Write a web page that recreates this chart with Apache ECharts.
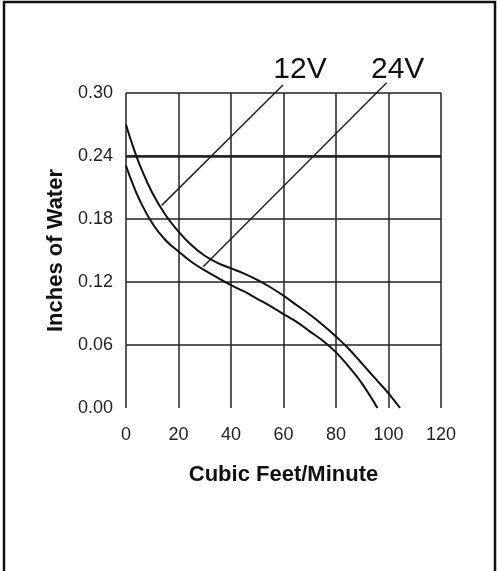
<!DOCTYPE html>
<html>
<head>
<meta charset="utf-8">
<script src="https://cdn.jsdelivr.net/npm/echarts@6/dist/echarts.min.js"></script>
<style>
html,body{margin:0;padding:0;background:#fff;}
#chart{width:500px;height:571px;}
</style>
</head>
<body>
<div id="chart"></div>
<script>
// Flow (CFM) sample positions and pressure (inches of water) for each curve
const upperFlow = [0, 2, 5, 10, 15, 20, 25, 30, 35, 40, 45, 50, 55, 60, 65, 70, 75, 80, 85, 90, 95, 100, 104.4];
const upperPressure = [0.270, 0.254, 0.233, 0.205, 0.184, 0.168, 0.155, 0.145, 0.138, 0.133, 0.128, 0.122, 0.115, 0.107, 0.098, 0.089, 0.079, 0.068, 0.056, 0.042, 0.028, 0.014, 0.000];
const lowerFlow = [0, 2, 5, 10, 15, 20, 25, 30, 35, 40, 45, 50, 55, 60, 65, 70, 75, 80, 85, 90, 95.8];
const lowerPressure = [0.231, 0.217, 0.199, 0.176, 0.160, 0.149, 0.139, 0.131, 0.124, 0.117, 0.111, 0.104, 0.097, 0.0895, 0.082, 0.073, 0.064, 0.053, 0.039, 0.023, 0.000];
// Leader lines for the voltage labels
const label12V = '12V';
const leader12V = [[13.6, 0.193], [59.8, 0.3076]];
const label24V = '24V';
const leader24V = [[29.4, 0.1346], [99.3, 0.3098]];
// Axes
const xTicks = [0, 20, 40, 60, 80, 100, 120];
const yTicks = [0.00, 0.06, 0.12, 0.18, 0.24, 0.30];
const xName = 'Cubic Feet/Minute';
const yName = 'Inches of Water';

const FONT = '"Liberation Sans", Arial, sans-serif';
const chart = echarts.init(document.getElementById('chart'));

function pairs(xs, ys) { return xs.map((x, i) => [x, ys[i]]); }
function leaderData(pts, text, dx, dy) {
  return pts.map((p, i) => i === pts.length - 1
    ? { value: p, label: { show: true, formatter: text, position: 'top', distance: 2, offset: [dx, dy],
        fontSize: 30, fontFamily: FONT, color: '#111' } }
    : { value: p, label: { show: false } });
}

chart.setOption({
  animation: false,
  backgroundColor: '#fff',
  graphic: [{
    type: 'rect', silent: true,
    shape: { x: 4, y: 2, width: 491, height: 590 },
    style: { fill: 'none', stroke: '#111', lineWidth: 2.5 }
  }],
  grid: { left: 126, top: 93, width: 315, height: 315, containLabel: false },
  xAxis: {
    type: 'value', min: xTicks[0], max: xTicks[xTicks.length - 1], interval: 20,
    name: xName, nameLocation: 'middle', nameGap: 56,
    nameTextStyle: { fontSize: 22, fontWeight: 'bold', fontFamily: FONT, color: '#111' },
    axisLine: { show: false }, axisTick: { show: false },
    axisLabel: { fontSize: 18, fontFamily: FONT, color: '#222', margin: 18 },
    splitLine: { show: true, lineStyle: { color: '#222', width: 1.5 } }
  },
  yAxis: {
    type: 'value', min: yTicks[0], max: yTicks[yTicks.length - 1], interval: 0.06,
    name: yName, nameLocation: 'middle', nameGap: 58, nameRotate: 90,
    nameTextStyle: { fontSize: 22, fontWeight: 'bold', fontFamily: FONT, color: '#111' },
    axisLine: { show: false }, axisTick: { show: false },
    axisLabel: { fontSize: 18, fontFamily: FONT, color: '#222', margin: 13,
      formatter: v => v.toFixed(2) },
    splitLine: { show: true, showMinLine: false, lineStyle: { color: '#222', width: 1.5 } }
  },
  series: [
    {
      type: 'line', data: pairs(upperFlow, upperPressure), smooth: 0.4,
      showSymbol: false, lineStyle: { color: '#111', width: 2 }, z: 5,
      markLine: {
        silent: true, symbol: 'none', label: { show: false },
        lineStyle: { color: '#222', width: 2.5, type: 'solid' },
        data: [{ yAxis: yTicks[4] }]
      }
    },
    {
      type: 'line', data: pairs(lowerFlow, lowerPressure), smooth: 0.4,
      showSymbol: false, lineStyle: { color: '#111', width: 2 }, z: 5
    },
    {
      type: 'line', data: leaderData(leader12V, label12V, 17, 2), clip: false,
      showSymbol: true, symbol: 'circle', symbolSize: 0.01, itemStyle: { color: '#222' },
      lineStyle: { color: '#222', width: 1.5 }, z: 4
    },
    {
      type: 'line', data: leaderData(leader24V, label24V, 11, 4), clip: false,
      showSymbol: true, symbol: 'circle', symbolSize: 0.01, itemStyle: { color: '#222' },
      lineStyle: { color: '#222', width: 1.5 }, z: 4
    }
  ]
});
</script>
</body>
</html>
